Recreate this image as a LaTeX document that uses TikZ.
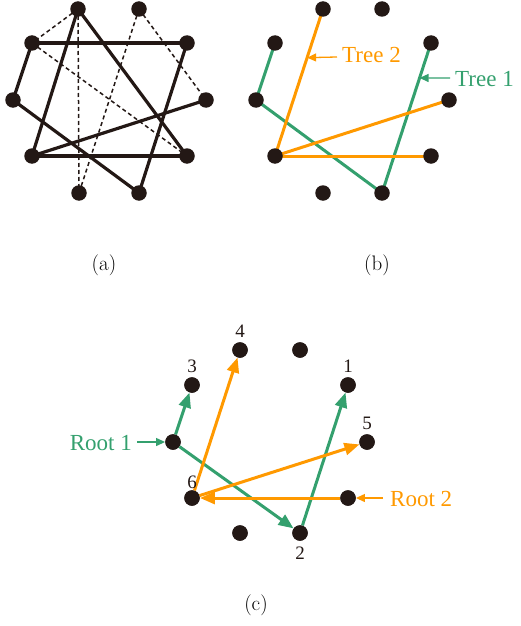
\documentclass[tikz,border=0pt]{standalone}
\usepackage{fontspec}
\newfontfamily\lab{Liberation Serif}
\usetikzlibrary{arrows.meta,calc}
\definecolor{dotc}{RGB}{35,24,21}
\definecolor{grn}{RGB}{52,160,110}
\definecolor{org}{RGB}{255,153,0}
\tikzset{
  dot/.style={circle,fill=dotc,inner sep=0pt,minimum size=15.5pt},
  solidedge/.style={line width=3.2pt,dotc},
  dashedge/.style={line width=1.5pt,dotc,dash pattern=on 4pt off 3pt},
  tgreen/.style={line width=3pt,grn},
  torange/.style={line width=3pt,org},
  garrow/.style={line width=3pt,grn,-{Triangle[length=15pt,width=12pt]}},
  oarrow/.style={line width=3pt,org,-{Triangle[length=15pt,width=12pt]}},
  ann/.style={line width=1.3pt,-{Triangle[length=9pt,width=8pt]}},
  anntext/.style={font=\lab\fontsize{23}{27}\selectfont,inner sep=0pt},
  numtext/.style={font=\lab\fontsize{19}{23}\selectfont,inner sep=0pt,text=dotc},
  captext/.style={font=\fontsize{21}{25}\selectfont,inner sep=0pt}
}
\begin{document}
\begin{tikzpicture}[x=1pt,y=-1pt]
\path[use as bounding box] (0,0) rectangle (520,626);
% ---------- panel (a) ----------
\foreach \n/\x/\y in {1/78/9,2/139/9,3/32/43,4/187/43,5/13/100,6/206/100,7/32/156,8/187/156,9/79/193,10/139/193}
  \coordinate (pa\n) at (\x,\y);
\draw[dashedge] (pa1) -- (pa3);
\draw[dashedge] (pa1) -- (pa9);
\draw[dashedge] (pa2) -- (pa9);
\draw[dashedge] (pa2) -- (pa6);
\draw[dashedge] (pa3) -- (pa8);
\draw[solidedge] (pa1) -- (pa7);
\draw[solidedge] (pa1) -- (pa8);
\draw[solidedge] (pa3) -- (pa4);
\draw[solidedge] (pa3) -- (pa5);
\draw[solidedge] (pa5) -- (pa10);
\draw[solidedge] (pa4) -- (pa10);
\draw[solidedge] (pa7) -- (pa6);
\draw[solidedge] (pa7) -- (pa8);
\foreach \n in {1,...,10} \node[dot] (a\n) at (pa\n) {};
\node[captext] (capa) at (104,265) {(a)};
% ---------- panel (b) ----------
\foreach \n/\x/\y in {1/323/9,2/382/9,3/275/43,4/431/43,5/256/100,6/449/100,7/275/156,8/431/156,9/323/193,10/382/193}
  \coordinate (pb\n) at (\x,\y);
\draw[tgreen] (pb3) -- (pb5);
\draw[tgreen] (pb5) -- (pb10);
\draw[tgreen] (pb10) -- (pb4);
\draw[torange] (pb7) -- (pb1);
\draw[torange] (pb7) -- (pb6);
\draw[torange] (pb7) -- (pb8);
\foreach \n in {1,...,10} \node[dot] (b\n) at (pb\n) {};
\coordinate (t2tip) at ($(pb7)!0.669!(pb1)$);
\coordinate (t2start) at (337,57);
\draw[ann,org] (t2start) -- (t2tip);
\node[anntext,text=org,anchor=base west] (tree2) at (342,63) {Tree 2};
\coordinate (t1tip) at ($(pb10)!0.767!(pb4)$);
\coordinate (t1start) at (450,78);
\draw[ann,grn] (t1start) -- (t1tip);
\node[anntext,text=grn,anchor=base west] (tree1) at (455,86) {Tree 1};
\node[captext] (capb) at (377,265) {(b)};
% ---------- panel (c) ----------
\foreach \n/\x/\y in {1/240/350,2/300/350,3/192/385,4/348/385,5/173/442,6/367/442,7/192/498,8/348/498,9/240/533,10/300/533}
  \node[dot] (c\n) at (\x,\y) {};
\draw[garrow] (c5) -- (c3);
\draw[garrow] (c5) -- (c10);
\draw[garrow] (c10) -- (c4);
\draw[oarrow] (c8) -- (c7);
\draw[oarrow] (c7) -- (c1);
\draw[oarrow] (c7) -- (c6);
\foreach \n in {1,...,10} \node[dot] at (c\n) {};
\node[numtext] (l4) at (240,331) {4};
\node[numtext] (l3) at (192,366) {3};
\node[numtext] (l6) at (192,482) {6};
\node[numtext] (l1) at (348,366) {1};
\node[numtext] (l5) at (367,423) {5};
\node[numtext] (l2) at (300,553) {2};
\coordinate (r1start) at (137,442);
\draw[ann,grn] (r1start) -- (c5);
\node[anntext,text=grn,anchor=base east] (root1) at (132,450) {Root 1};
\coordinate (r2start) at (383,498);
\draw[ann,org] (r2start) -- (c8);
\node[anntext,text=org,anchor=base west] (root2) at (390,506) {Root 2};
\node[captext] (capc) at (256,605) {(c)};
\end{tikzpicture}
\end{document}
